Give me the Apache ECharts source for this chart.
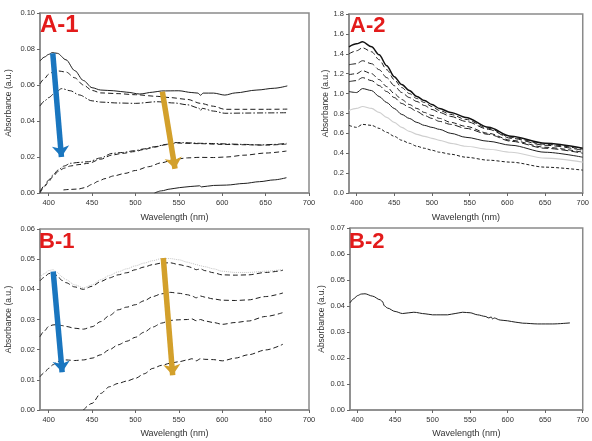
<!DOCTYPE html>
<html><head><meta charset="utf-8">
<script src="https://cdn.jsdelivr.net/npm/echarts@6/dist/echarts.min.js"></script>
<style>html,body{margin:0;padding:0;background:#fff}#c{width:592px;height:441px}</style>
</head><body><div id="c"></div>
<script>
// ---------- Panel A-1 ----------
const a1_w1 = [390,395,400,404,410,420,430,440,450,460,475,490,505,520,530,550,565,572,575,578,590,603,615,640,660,675];
const a1_v1 = [0.0733,0.0755,0.0770,0.0780,0.0776,0.0740,0.0680,0.0625,0.0585,0.0572,0.0568,0.0560,0.0550,0.0560,0.0567,0.0568,0.0558,0.0555,0.0543,0.0555,0.0555,0.0544,0.0556,0.0572,0.0582,0.0595];
const a1_w2 = [390,395,400,405,411,420,430,440,450,460,480,500,525,540,560,575,590,603,625,650,675];
const a1_v2 = [0.0606,0.0635,0.0660,0.0672,0.0678,0.0672,0.0640,0.0600,0.0570,0.0556,0.0552,0.0546,0.0537,0.0530,0.0520,0.0498,0.0482,0.0465,0.0465,0.0465,0.0466];
const a1_w3 = [390,395,400,408,415,425,435,450,460,480,500,525,545,560,573,575,577,590,603,625,650,675];
const a1_v3 = [0.0483,0.0510,0.0530,0.0560,0.0580,0.0568,0.0545,0.0512,0.0505,0.0500,0.0498,0.0507,0.0500,0.0490,0.0472,0.0458,0.0470,0.0455,0.0443,0.0444,0.0445,0.0446];
const a1_w4 = [390,395,400,405,411,418,425,435,446,460,473,485,499,510,522,535,545,555,565,575,590,609,625,643,660,674];
const a1_v4 = [0.0007,0.0040,0.0072,0.0100,0.0128,0.0150,0.0165,0.0170,0.0174,0.0195,0.0220,0.0225,0.0235,0.0245,0.0257,0.0270,0.0280,0.0280,0.0278,0.0276,0.0275,0.0272,0.0270,0.0267,0.0270,0.0276];
const a1_w5 = [390,395,400,405,411,418,425,435,446,460,473,485,499,510,522,535,550,575,600,625,650,675];
const a1_v5 = [0.0000,0.0035,0.0063,0.0092,0.0120,0.0138,0.0150,0.0158,0.0165,0.0188,0.0211,0.0220,0.0230,0.0242,0.0255,0.0268,0.0277,0.0274,0.0270,0.0268,0.0266,0.0272];
const a1_w6 = [417,425,434,442,450,457,465,475,488,500,515,530,545,560,574,590,605,625,650,674];
const a1_v6 = [0.0017,0.0020,0.0022,0.0030,0.0048,0.0065,0.0080,0.0095,0.0109,0.0125,0.0146,0.0168,0.0187,0.0195,0.0198,0.0197,0.0200,0.0210,0.0222,0.0233];
const a1_w7 = [522,530,540,551,563,574,576,590,605,625,643,660,674];
const a1_v7 = [0.0000,0.0012,0.0022,0.0030,0.0036,0.0040,0.0034,0.0042,0.0044,0.0053,0.0063,0.0073,0.0085];

// ---------- Panel A-2 ----------
const a2_w = [390,400,408,420,430,440,450,460,470,480,490,500,510,525,545,575,605,650,700];
const a2_v1 = [1.47,1.50,1.52,1.47,1.39,1.28,1.17,1.09,1.03,0.97,0.93,0.89,0.85,0.81,0.76,0.66,0.57,0.50,0.45];
const a2_v2 = [1.40,1.43,1.46,1.42,1.34,1.24,1.14,1.06,1.00,0.95,0.91,0.87,0.83,0.79,0.74,0.65,0.56,0.49,0.44];
const a2_v3 = [1.29,1.30,1.33,1.30,1.24,1.16,1.08,1.01,0.96,0.92,0.88,0.84,0.81,0.77,0.72,0.64,0.55,0.48,0.43];
const a2_v4 = [1.19,1.20,1.23,1.20,1.14,1.07,1.00,0.94,0.89,0.85,0.81,0.78,0.75,0.71,0.67,0.60,0.53,0.46,0.41];
const a2_v5 = [1.12,1.13,1.16,1.13,1.08,1.02,0.96,0.90,0.86,0.82,0.78,0.75,0.72,0.69,0.65,0.59,0.52,0.45,0.40];
const a2_v6 = [1.02,1.01,1.05,1.03,0.97,0.91,0.85,0.79,0.75,0.71,0.68,0.66,0.64,0.60,0.56,0.52,0.48,0.41,0.36];
const a2_v7 = [0.83,0.85,0.87,0.85,0.81,0.76,0.71,0.66,0.62,0.59,0.57,0.55,0.53,0.50,0.47,0.44,0.41,0.35,0.31];
const a2_v8 = [0.68,0.66,0.69,0.68,0.65,0.61,0.57,0.53,0.50,0.47,0.45,0.43,0.41,0.39,0.36,0.33,0.31,0.26,0.23];

// ---------- Panel B-1 ----------
const b1_w = [390,395,400,405,410,415,420,430,440,450,460,470,480,490,500,510,520,530,540,550,560,565,570,575,580,590,600,615,630,650,670];
const b1_v0 = [0.0440,0.0452,0.0462,0.0465,0.0456,0.0442,0.0432,0.0415,0.0405,0.0415,0.0432,0.0446,0.0458,0.0468,0.0478,0.0487,0.0495,0.0502,0.0502,0.0498,0.0490,0.0486,0.0482,0.0478,0.0475,0.0468,0.0460,0.0456,0.0456,0.0460,0.0466];
const b1_v1 = [0.0428,0.0440,0.0452,0.0456,0.0445,0.0430,0.0422,0.0408,0.0400,0.0410,0.0426,0.0438,0.0448,0.0455,0.0465,0.0474,0.0482,0.0487,0.0488,0.0482,0.0476,0.0472,0.0465,0.0468,0.0462,0.0455,0.0448,0.0447,0.0448,0.0456,0.0463];
const b1_v2 = [0.0243,0.0262,0.0277,0.0282,0.0283,0.0280,0.0277,0.0271,0.0268,0.0276,0.0293,0.0313,0.0332,0.0341,0.0349,0.0362,0.0376,0.0385,0.0390,0.0387,0.0382,0.0378,0.0372,0.0378,0.0374,0.0368,0.0364,0.0363,0.0365,0.0376,0.0388];
const b1_v3 = [0.0110,0.0124,0.0138,0.0150,0.0160,0.0165,0.0166,0.0164,0.0166,0.0172,0.0183,0.0200,0.0216,0.0228,0.0241,0.0258,0.0275,0.0288,0.0297,0.0299,0.0300,0.0302,0.0296,0.0300,0.0295,0.0290,0.0284,0.0290,0.0295,0.0310,0.0323];
const b1_w4 = [440,450,460,470,480,490,500,510,520,530,540,550,560,565,570,575,580,590,600,615,630,650,670];
const b1_v4 = [0.0000,0.0022,0.0055,0.0077,0.0088,0.0096,0.0105,0.0120,0.0138,0.0148,0.0155,0.0160,0.0166,0.0170,0.0163,0.0170,0.0168,0.0167,0.0163,0.0172,0.0183,0.0199,0.0218];

// ---------- Panel B-2 ----------
const b2_w = [390,395,400,405,410,420,430,433,436,440,450,460,475,490,500,520,530,540,550,560,570,575,578,580,582,590,600,610,620,640,660,683];
const b2_v = [0.0412,0.0428,0.0440,0.0446,0.0447,0.0438,0.0424,0.0418,0.0400,0.0392,0.0379,0.0371,0.0376,0.0370,0.0366,0.0366,0.0371,0.0376,0.0374,0.0366,0.0360,0.0354,0.0358,0.0350,0.0354,0.0346,0.0343,0.0338,0.0334,0.0331,0.0331,0.0335];

// tick labels
const xTicks = [400,450,500,550,600,650,700];
const panelLabels = ['A-1','A-2','B-1','B-2'];

const zip = (w, v) => w.map((x, i) => [x, v[i]]);
const BLACK = '#1e1e1e';
const SOLID = 'solid', DASH = [5,3], DASHDOT = [6,2,1.5,2], SDASH = [3,2];

function line(gi, w, v, type, color, width) {
  return { type: 'line', xAxisIndex: gi, yAxisIndex: gi, data: zip(w, v), showSymbol: false, symbol: 'none',
    smooth: 0.3, smoothMonotone: 'x', lineStyle: { color: color || BLACK, width: width || 1, type: type }, z: 3, silent: true };
}

const grids = [
  { left: 40, top: 13, width: 269, height: 180 },
  { left: 349, top: 14, width: 234, height: 179 },
  { left: 40, top: 229, width: 269, height: 181 },
  { left: 350, top: 228, width: 235, height: 182 }
].map(g => Object.assign(g, { show: true, borderColor: '#8a8a8a', borderWidth: 1.5, backgroundColor: 'transparent' }));

const axisTxt = { fontFamily: 'Liberation Sans, Arial, sans-serif', color: '#333' };
function xAxis(gi, gap) {
  return { type: 'value', gridIndex: gi, min: 390, max: 700, name: 'Wavelength (nm)', nameLocation: 'middle', nameGap: gap,
    nameTextStyle: Object.assign({ fontSize: 9 }, axisTxt),
    axisLine: { show: true, lineStyle: { color: '#8a8a8a', width: 1.5 } },
    axisTick: { show: true, length: 3, customValues: xTicks, lineStyle: { color: '#666' } },
    axisLabel: { customValues: xTicks, fontSize: 7.5, margin: 6, color: '#333', fontFamily: axisTxt.fontFamily },
    splitLine: { show: false } };
}
function yAxis(gi, max, interval, dec, gap) {
  return { type: 'value', gridIndex: gi, min: 0, max: max, interval: interval, name: 'Absorbance (a.u.)', nameLocation: 'middle', nameGap: gap,
    nameTextStyle: Object.assign({ fontSize: 8.5 }, axisTxt),
    axisLine: { show: true, lineStyle: { color: '#8a8a8a', width: 1.5 } },
    axisTick: { show: true, length: 3, lineStyle: { color: '#666' } },
    axisLabel: { fontSize: 7.5, margin: 5, color: '#333', fontFamily: axisTxt.fontFamily, formatter: v => v.toFixed(dec) },
    splitLine: { show: false } };
}

function arrows(list) {
  return { silent: true, symbol: ['none', 'arrow'], symbolSize: [13, 11], animation: false, label: { show: false },
    data: list.map(a => [{ coord: a.from, lineStyle: { color: a.color, width: 5.5, type: 'solid' } }, { coord: a.to }]) };
}
const BLUE = '#1a76bf', GOLD = '#d3a02b';

const s = [];
const s1 = line(0, a1_w1, a1_v1, SOLID);
s1.markLine = arrows([
  { from: [404.7, 0.0776], to: [414.7, 0.0200], color: BLUE },
  { from: [531, 0.0563], to: [545.6, 0.0135], color: GOLD }
]);
s.push(s1,
  line(0, a1_w2, a1_v2, DASH),
  line(0, a1_w3, a1_v3, DASHDOT),
  line(0, a1_w4, a1_v4, DASHDOT),
  line(0, a1_w5, a1_v5, DASH),
  line(0, a1_w6, a1_v6, DASH),
  line(0, a1_w7, a1_v7, SOLID));
s.push(
  line(1, a2_w, a2_v1, SOLID, '#111', 1.5),
  line(1, a2_w, a2_v2, DASH),
  line(1, a2_w, a2_v3, [7,3]),
  line(1, a2_w, a2_v4, DASH),
  line(1, a2_w, a2_v5, [7,3]),
  line(1, a2_w, a2_v6, SOLID),
  line(1, a2_w, a2_v7, SOLID, '#cfcfcf', 1.2),
  line(1, a2_w, a2_v8, SDASH));
const b0 = line(2, b1_w, b1_v0, 'dotted', '#c4c4c4', 1);
const b1 = line(2, b1_w, b1_v1, DASH);
b1.markLine = arrows([
  { from: [405.2, 0.0459], to: [415.5, 0.0125], color: BLUE },
  { from: [532.1, 0.0504], to: [542.9, 0.0115], color: GOLD }
]);
s.push(b0, b1,
  line(2, b1_w, b1_v2, DASH),
  line(2, b1_w, b1_v3, DASH),
  line(2, b1_w4, b1_v4, DASH));
s.push(line(3, b2_w, b2_v, SOLID));
s.forEach(x => { x.clip = true; });

const titlePos = [[40, 13], [350, 15], [39, 231], [349, 231]];
const titleSize = [24, 22, 22, 22];
const option = {
  animation: false,
  backgroundColor: '#fff',
  title: panelLabels.map((t, i) => ({ text: t, left: titlePos[i][0], top: titlePos[i][1], padding: 0,
    textStyle: { color: '#e31b1b', fontSize: titleSize[i], fontWeight: 'bold', fontFamily: 'Liberation Sans, Arial, sans-serif' } })),
  grid: grids,
  xAxis: [xAxis(0, 20), xAxis(1, 20), xAxis(2, 19), xAxis(3, 19)],
  yAxis: [yAxis(0, 0.10, 0.02, 2, 27), yAxis(1, 1.8, 0.2, 1, 19), yAxis(2, 0.06, 0.01, 2, 27), yAxis(3, 0.07, 0.01, 2, 22)],
  series: s
};
const chart = echarts.init(document.getElementById('c'), null, { renderer: 'canvas' });
chart.setOption(option);
</script></body></html>
